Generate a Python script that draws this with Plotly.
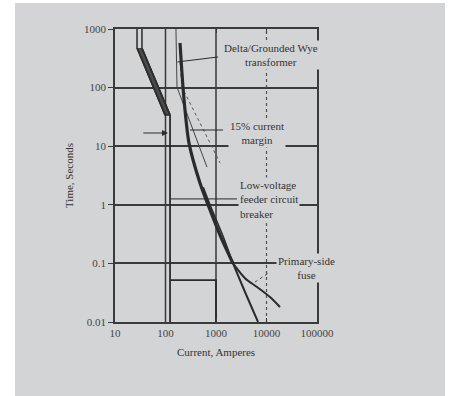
import numpy as np
import plotly.graph_objects as go

# ---------------- data (current in A, time in s) ----------------
x_ticks = [10, 100, 1000, 10000, 100000]
x_ticktext = ["10", "100", "1000", "10000", "100000"]
y_ticks = [0.01, 0.1, 1, 10, 100, 1000]
y_ticktext = ["0.01", "0.1", "1", "10", "100", "1000"]

# low-voltage feeder breaker band (long-time region)
brk_left_I = [27.3, 27.3, 97.8]
brk_left_t = [1000, 474, 34.2]
brk_right_I = [34.2, 34.2, 123]
brk_right_t = [1000, 474, 34.2]
# breaker short-time / instantaneous region
brk_min_I = [123, 123]
brk_min_t = [34.2, 0.01]
brk_clear_I = [123, 1000, 1000]
brk_clear_t = [0.052, 0.052, 0.01]

# primary-side fuse
fuse_I = [194, 222, 255, 292, 482, 695, 1200, 2170]
fuse_t = [577, 102, 28, 11.3, 2.35, 1.0, 0.305, 0.1]
fuse_band_I = [560, 800, 1380, 2170]
fuse_band_t = [2.0, 0.9, 0.29, 0.1]
fuse_melt_I = [2170, 3750, 6800]
fuse_melt_t = [0.1, 0.0325, 0.01]
fuse_clear_I = [2170, 3750, 6490, 11700, 18500]
fuse_clear_t = [0.1, 0.056, 0.0395, 0.0267, 0.018]

# transformer damage curve and 15 % margin curve
xfmr_I = [161, 169, 663]
xfmr_t = [1000, 102, 4.4]
margin_I = [194, 212, 1200]
margin_t = [274, 102, 5.2]

# leader lines / arrow
lead_xfmr_I = [172, 1100]
lead_xfmr_t = [274, 333]
lead_margin_I = [306, 1377]
lead_margin_t = [18.9, 18.9]
arrow_I = [34, 112]
arrow_t = 16.8
lead_brk_I = [123, 2600]
lead_brk_t = [1.26, 1.26]
lead_fuse_I = [5900, 11700]
lead_fuse_t = [0.048, 0.071]

grid_I_solid = [100, 1000]
grid_I_dot = [10000]

# ---------------- styling ----------------
BG = "#d3d4d6"
INK = "#2b2b2b"
FONT = "Liberation Serif"

fig = go.Figure()

def line(x, y, width=1.2, dash="solid", color=INK, shape="linear"):
    fig.add_trace(go.Scatter(x=x, y=y, mode="lines", showlegend=False, hoverinfo="skip",
                             line=dict(color=color, width=width, dash=dash, shape=shape,
                                       smoothing=0.8 if shape == "spline" else None)))

# vertical grid lines
for gx in grid_I_solid:
    line([gx, gx], [0.01, 1000], width=1.5, color="#3a3a3a")
for gx in grid_I_dot:
    line([gx, gx], [0.01, 1000], width=1.2, dash="dot", color="#505050")

# breaker band (filled part only below the double vertical lines)
fig.add_trace(go.Scatter(
    x=brk_left_I[1:] + brk_right_I[1:][::-1], y=brk_left_t[1:] + brk_right_t[1:][::-1],
    mode="lines", fill="toself", showlegend=False, hoverinfo="skip",
    fillcolor="#4a4a4a",
    line=dict(color=INK, width=1.5)))
line(brk_left_I, brk_left_t, width=1.5)
line(brk_right_I, brk_right_t, width=1.5)
line(brk_min_I, brk_min_t, width=1.8)
line(brk_clear_I, brk_clear_t, width=1.8)

# transformer curves
line(xfmr_I, xfmr_t, width=1.0, color="#444")
line(margin_I, margin_t, width=1.0, dash="dot", color="#555")

# fuse
line(fuse_I, fuse_t, width=3.2, shape="spline")
line(fuse_band_I, fuse_band_t, width=1.6, shape="spline")
line(fuse_melt_I, fuse_melt_t, width=2.0, shape="spline")
line(fuse_clear_I, fuse_clear_t, width=2.0, shape="spline")

# leader lines
line(lead_xfmr_I, lead_xfmr_t, width=1.0)
line(lead_margin_I, lead_margin_t, width=1.0)
line(lead_brk_I, lead_brk_t, width=1.0)
line(lead_fuse_I, lead_fuse_t, width=0.8, dash="dot")

fig.add_annotation(x=np.log10(arrow_I[1]), y=np.log10(arrow_t), ax=np.log10(arrow_I[0]),
                   ay=np.log10(arrow_t), xref="x", yref="y", axref="x", ayref="y",
                   text="", showarrow=True, arrowhead=2, arrowsize=1, arrowwidth=1.2,
                   arrowcolor=INK)

def label(text, px, py, xanchor="center", align="center"):
    fig.add_annotation(text=text, xref="paper", yref="paper",
                       x=(px - 115) / 202, y=(322 - py) / 293,
                       xanchor=xanchor, yanchor="middle", align=align, showarrow=False,
                       font=dict(family=FONT, size=11, color="#333"),
                       bgcolor=BG, borderpad=1)

label("Delta/Grounded Wye<br>transformer", 271, 55)
label("15% current<br>margin", 257, 133)
label("Low-voltage<br>feeder circuit<br>breaker", 238, 199, xanchor="left", align="left")
label("Primary-side<br>fuse", 306, 268)

# gray panel behind everything
fig.add_shape(type="rect", xref="paper", yref="paper", layer="below",
              x0=(15 - 115) / 202, x1=(445 - 115) / 202,
              y0=(322 - 400) / 293, y1=(322 - 3) / 293,
              fillcolor=BG, line=dict(width=0))

fig.update_xaxes(type="log", range=[1, 5], tickvals=x_ticks, ticktext=x_ticktext,
                 showgrid=False, showline=True, linecolor="#3a3a3a", linewidth=1.5,
                 mirror="ticks", ticks="inside", ticklen=4, tickcolor="#3a3a3a",
                 zeroline=False,
                 tickfont=dict(family=FONT, size=11, color="#444"),
                 title=dict(text="Current, Amperes", standoff=10,
                            font=dict(family=FONT, size=11, color="#333")))
fig.update_yaxes(type="log", range=[-2, 3], tickvals=y_ticks, ticktext=y_ticktext,
                 showgrid=True, gridcolor="#3a3a3a", gridwidth=1.5,
                 showline=True, linecolor="#3a3a3a", linewidth=1.5,
                 mirror=True, ticks="outside", ticklen=5, tickcolor="#3a3a3a",
                 zeroline=False,
                 tickfont=dict(family=FONT, size=11, color="#444"),
                 title=dict(text="Time, Seconds", standoff=8,
                            font=dict(family=FONT, size=11, color="#333")))

fig.update_layout(width=450, height=396, autosize=False,
                  margin=dict(l=115, r=133, t=29, b=74),
                  paper_bgcolor="white", plot_bgcolor=BG, showlegend=False)

fig.write_html("out.html")
